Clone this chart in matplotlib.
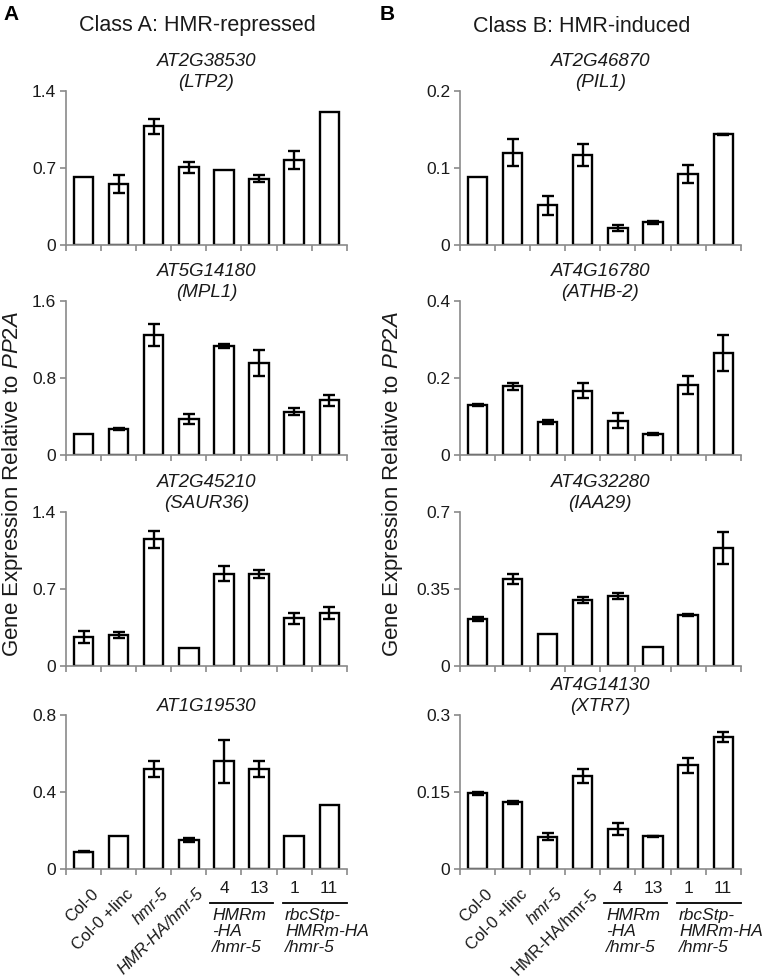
import matplotlib
matplotlib.use("Agg")
import matplotlib.pyplot as plt
import numpy as np

plt.rcParams['font.family'] = ['Liberation Sans', 'DejaVu Sans']
plt.rcParams['mathtext.fontset'] = 'custom'
plt.rcParams['mathtext.rm'] = 'Liberation Sans'
plt.rcParams['mathtext.it'] = 'Liberation Sans:italic'

# ---------------- data ----------------
genotypes = ["Col-0", "Col-0 +linc", "hmr-5", "HMR-HA/hmr-5", "4", "13", "1", "11"]

# Class A (HMR-repressed)
a_titles = ["AT2G38530\n(LTP2)", "AT5G14180\n(MPL1)", "AT2G45210\n(SAUR36)", "AT1G19530"]
a_ticks = [[0, 0.7, 1.4], [0, 0.8, 1.6], [0, 0.7, 1.4], [0, 0.4, 0.8]]
a_ticklabels = [["0", "0.7", "1.4"], ["0", "0.8", "1.6"], ["0", "0.7", "1.4"], ["0", "0.4", "0.8"]]
ltp2 = [0.62, 0.555, 1.082, 0.707, 0.686, 0.604, 0.775, 1.214]
ltp2_err = [0, 0.08, 0.07, 0.046, 0, 0.03, 0.08, 0]
mpl1 = [0.221, 0.273, 1.247, 0.374, 1.132, 0.956, 0.45, 0.568]
mpl1_err = [0, 0.01, 0.118, 0.055, 0.02, 0.138, 0.038, 0.055]
saur36 = [0.264, 0.285, 1.152, 0.161, 0.84, 0.84, 0.434, 0.482]
saur36_err = [0.052, 0.027, 0.079, 0, 0.07, 0.036, 0.052, 0.055]
at1g19530 = [0.09, 0.171, 0.519, 0.151, 0.559, 0.519, 0.171, 0.334]
at1g19530_err = [0.003, 0, 0.04, 0.008, 0.114, 0.04, 0, 0]

# Class B (HMR-induced)
b_titles = ["AT2G46870\n(PIL1)", "AT4G16780\n(ATHB-2)", "AT4G32280\n(IAA29)", "AT4G14130\n(XTR7)"]
b_ticks = [[0, 0.1, 0.2], [0, 0.2, 0.4], [0, 0.35, 0.7], [0, 0.15, 0.3]]
b_ticklabels = [["0", "0.1", "0.2"], ["0", "0.2", "0.4"], ["0", "0.35", "0.7"], ["0", "0.15", "0.3"]]
pil1 = [0.0887, 0.12, 0.0518, 0.1174, 0.0222, 0.0296, 0.093, 0.144]
pil1_err = [0, 0.0174, 0.012, 0.0143, 0.0043, 0.0015, 0.0117, 0.001]
athb2 = [0.129, 0.178, 0.0846, 0.167, 0.089, 0.054, 0.182, 0.265]
athb2_err = [0.003, 0.009, 0.005, 0.019, 0.019, 0.002, 0.0235, 0.048]
iaa29 = [0.213, 0.396, 0.146, 0.301, 0.318, 0.087, 0.233, 0.537]
iaa29_err = [0.009, 0.023, 0, 0.015, 0.014, 0, 0.005, 0.071]
xtr7 = [0.148, 0.130, 0.0634, 0.181, 0.078, 0.064, 0.202, 0.257]
xtr7_err = [0.003, 0.003, 0.007, 0.014, 0.011, 0.001, 0.014, 0.010]

a_vals = [ltp2, mpl1, saur36, at1g19530]
a_errs = [ltp2_err, mpl1_err, saur36_err, at1g19530_err]
b_vals = [pil1, athb2, iaa29, xtr7]
b_errs = [pil1_err, athb2_err, iaa29_err, xtr7_err]

# ---------------- figure ----------------
fig = plt.figure(figsize=(7.65, 9.77), dpi=100)

lefts = [0.0863, 0.6013]
width = 0.367
bottoms = [0.749, 0.5343, 0.3183, 0.1105]
height = 0.1576
gray = '#8a8a8a'
txt = '#1a1a1a'

def draw_panel(ax, vals, errs, title, ticks, ticklabels):
    x = np.arange(len(vals))
    errs_plot = [e if e > 0 else np.nan for e in errs]
    ax.bar(x, vals, width=0.55, color='white', edgecolor='black', linewidth=1.7, zorder=2)
    ax.errorbar(x, vals, yerr=errs_plot, fmt='none', ecolor='black',
                elinewidth=1.7, capsize=4.5, capthick=1.7, zorder=3)
    ax.set_xlim(-0.5, len(vals) - 0.5)
    ax.set_ylim(0, ticks[-1])
    ax.set_yticks(ticks)
    ax.set_yticklabels(ticklabels, fontsize=12.5)
    ax.set_xticks(np.arange(len(vals) + 1) - 0.5)
    ax.set_xticklabels([])
    for s in ['top', 'right']:
        ax.spines[s].set_visible(False)
    for s in ['left', 'bottom']:
        ax.spines[s].set_color(gray)
        ax.spines[s].set_linewidth(1.2)
    ax.tick_params(axis='both', colors=gray, length=4, width=1.2, labelcolor=txt, pad=3)
    ax.set_title(title, fontsize=13.5, style='italic', pad=1, linespacing=1.3, color=txt)

axes = {}
for col, (vals_list, errs_list, titles, ticks_list, tl_list) in enumerate(
        [(a_vals, a_errs, a_titles, a_ticks, a_ticklabels),
         (b_vals, b_errs, b_titles, b_ticks, b_ticklabels)]):
    for row in range(4):
        ax = fig.add_axes([lefts[col], bottoms[row], width, height])
        draw_panel(ax, vals_list[row], errs_list[row], titles[row], ticks_list[row], tl_list[row])
        axes[(col, row)] = ax

# bottom x labels
for col in range(2):
    ax = axes[(col, 3)]
    trans = ax.get_xaxis_transform()
    rot_labels = genotypes[:4]
    italic_flags = [False, False, True, col == 0]
    for i, (lab, it) in enumerate(zip(rot_labels, italic_flags)):
        ax.text(i + 0.2, -0.11, lab, transform=trans, rotation=45, ha='right', va='top',
                rotation_mode='anchor', fontsize=12, style='italic' if it else 'normal',
                color=txt)
    for i in range(4, 8):
        ax.text(i, -0.075, genotypes[i], transform=trans, ha='center', va='top',
                fontsize=12.5, color=txt)
    ax.plot([3.6, 5.4], [-0.22, -0.22], transform=trans, color='black', lw=1.3, clip_on=False)
    ax.plot([5.68, 7.5], [-0.22, -0.22], transform=trans, color='black', lw=1.3, clip_on=False)
    ax.text(3.66, -0.25, "HMRm\n-HA\n/hmr-5", transform=trans, ha='left', va='top',
            fontsize=12.5, style='italic', linespacing=1.1, color=txt)
    ax.text(5.74, -0.25, "rbcStp-\nHMRm-HA\n/hmr-5", transform=trans, ha='left', va='top',
            fontsize=12.5, style='italic', linespacing=1.1, color=txt)

# headers and labels
fig.text(197 / 765, 1 - 26 / 977, "Class A: HMR-repressed", ha='center', va='center', fontsize=15.5, color=txt)
fig.text(582 / 765, 1 - 26 / 977, "Class B: HMR-induced", ha='center', va='center', fontsize=15.5, color=txt)
fig.text(11 / 765, 1 - 14 / 977, "A", ha='center', va='center', fontsize=15, fontweight='bold')
fig.text(387 / 765, 1 - 14 / 977, "B", ha='center', va='center', fontsize=15, fontweight='bold')
ylab = r"Gene Expression Relative to $\it{PP2A}$"
fig.text(13 / 765, 1 - 484 / 977, ylab, rotation=90, ha='center', va='center', fontsize=16, color=txt)
fig.text(393 / 765, 1 - 484 / 977, ylab, rotation=90, ha='center', va='center', fontsize=16, color=txt)

fig.savefig("out.png", dpi=100)
